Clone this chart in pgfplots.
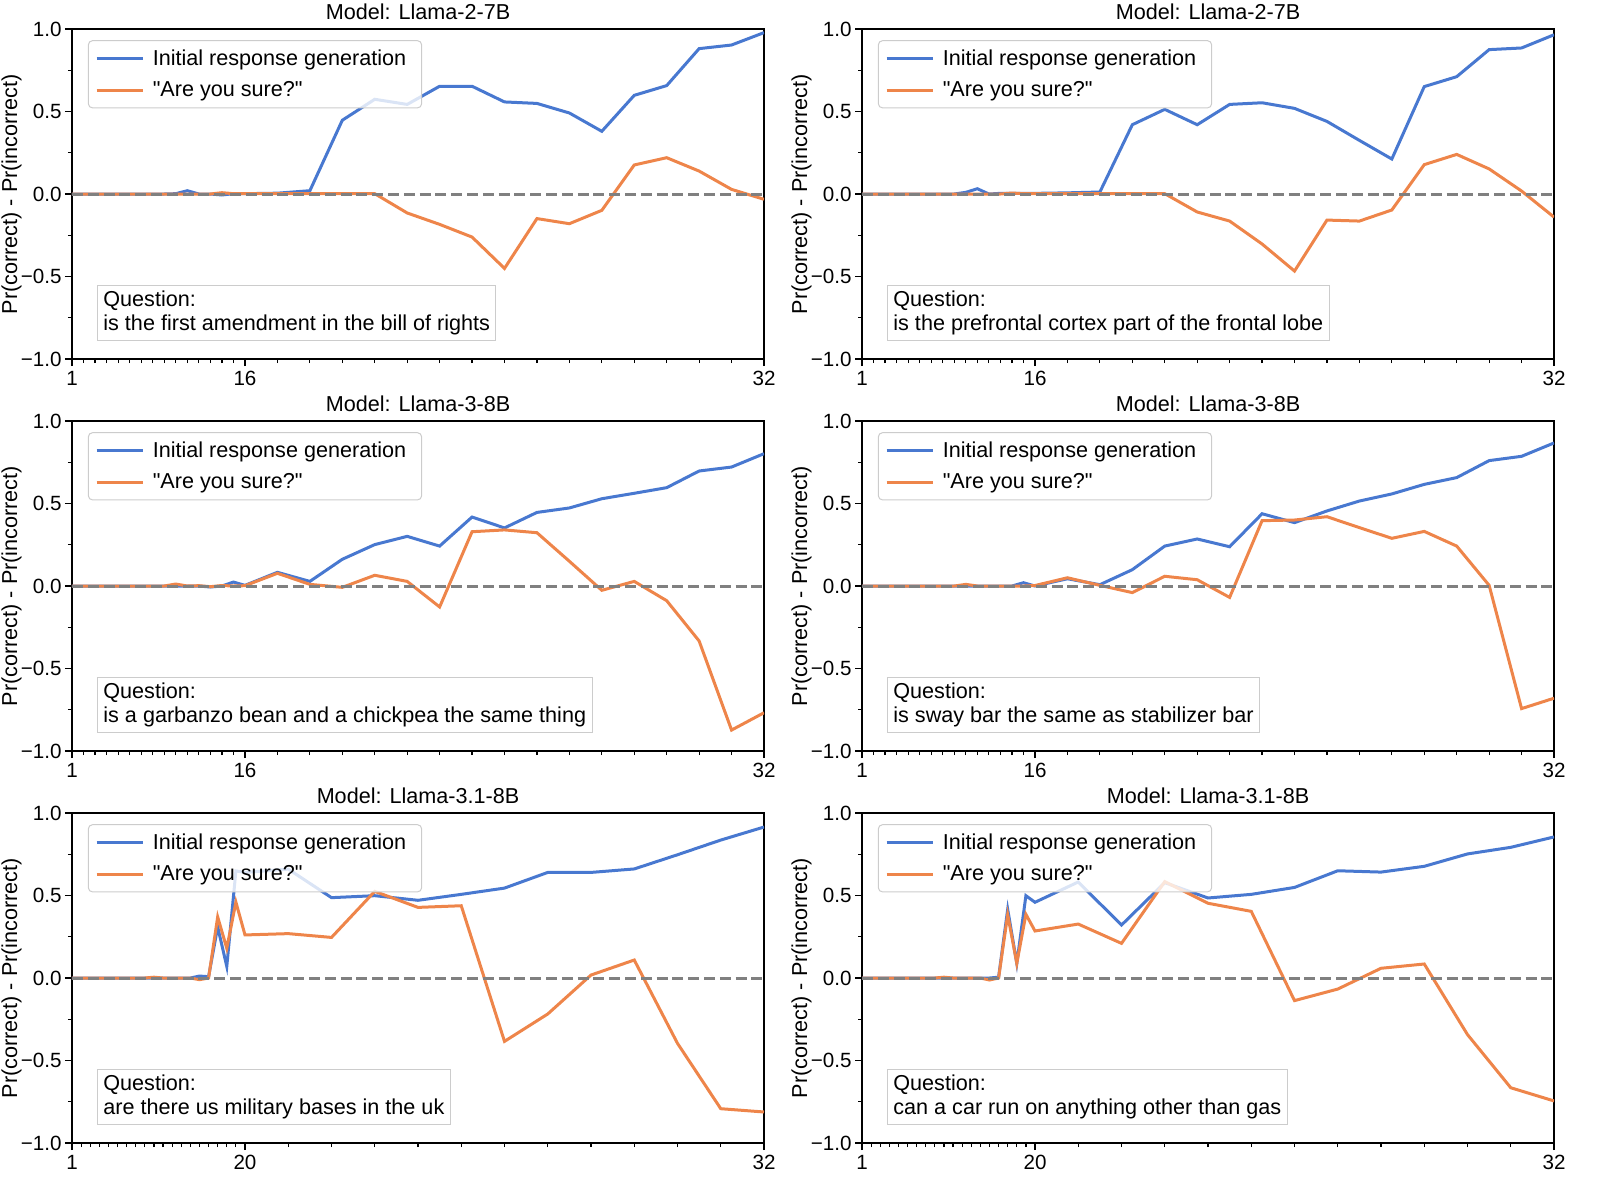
\documentclass[border=0pt]{standalone}
\usepackage{fontspec}
\setmainfont{Liberation Sans}
\usepackage{pgfplots}
\usepackage{pgfplotstable}
\pgfplotsset{compat=1.18}
\newcommand\fs{\fontsize{10.8}{12.4}\selectfont}
\newcommand\ft{\fontsize{10.3}{12}\selectfont}
\newcommand\q{\textquotedbl}
\definecolor{cblue}{HTML}{4878D0}
\definecolor{corange}{HTML}{EE854A}
\definecolor{cgray}{HTML}{808080}

\pgfplotstableread{
x b1 o1 b2 o2 b3 o3 b4 o4 b5 o5 b6 o6
1 0 0 0 0 0 0 0 0 0 0 0 0
2 0 0 0 0 0 0 0 0 0 0 0 0
3 0 0 0 0 0 0 0 0 0 0 0 0
4 0 0 0 0 0 0 0 0 0 0 0 0
5 0 0 0 0 0 0 0 0 0 0 0 0
6 0 0 0 0 0 0 0 0 0 0 0 0
7 0 0 0 0 0 0 0 0 0 0 0 0
8 0 0 0 0 0 0 0 0 0 0 0 0
9 0 0 0 0 0 0 0 0 0 0 0 0
10 0.002 0 0.01 0 0 0.012 0 0.01 0 0.005 0 0.005
11 0.02 0 0.032 0 0 0 0 0 0 0 0 0
12 0 0 0 0 0 0.002 0 0 0 0 0 0
13 0 0 0.004 0 -0.006 -0.004 0 0 0 0 0 0
14 -0.006 0.008 0.004 0.006 0 0.003 0 0 0 0 0 0
15 0.002 0.002 0.004 0.002 0.024 0 0.02 0 0.012 -0.01 0 -0.012
16 0.002 0.002 0.004 0.002 0.004 0.002 0 0.003 0.008 0 0.005 0
17 0.005 0.002 0.007 0.002 0.083 0.077 0.044 0.05 0.31 0.37 0.416 0.384
18 0.02 0.003 0.012 0.002 0.028 0.01 0.008 0.004 0.07 0.18 0.089 0.089
19 0.447 0.003 0.42 0.002 0.162 -0.008 0.099 -0.04 0.649 0.46 0.499 0.386
20 0.574 0.002 0.513 0.002 0.251 0.065 0.242 0.059 0.64 0.261 0.459 0.285
21 0.543 -0.115 0.42 -0.109 0.301 0.028 0.285 0.038 0.66 0.269 0.582 0.327
22 0.653 -0.184 0.543 -0.164 0.242 -0.127 0.238 -0.069 0.487 0.246 0.321 0.21
23 0.653 -0.261 0.553 -0.303 0.418 0.329 0.438 0.396 0.499 0.525 0.578 0.584
24 0.558 -0.451 0.519 -0.467 0.352 0.34 0.384 0.4 0.471 0.428 0.485 0.453
25 0.549 -0.149 0.44 -0.158 0.446 0.323 0.455 0.42 0.507 0.438 0.507 0.404
26 0.491 -0.18 0.325 -0.164 0.473 0.15 0.515 0.354 0.545 -0.384 0.549 -0.137
27 0.38 -0.099 0.212 -0.097 0.529 -0.026 0.558 0.289 0.64 -0.218 0.65 -0.067
28 0.598 0.176 0.651 0.178 0.562 0.028 0.616 0.331 0.64 0.018 0.642 0.059
29 0.657 0.22 0.711 0.24 0.596 -0.089 0.657 0.242 0.661 0.109 0.677 0.085
30 0.881 0.139 0.875 0.152 0.697 -0.333 0.76 0.004 0.747 -0.396 0.752 -0.343
31 0.903 0.028 0.885 0.018 0.721 -0.873 0.786 -0.743 0.836 -0.792 0.792 -0.665
32 0.978 -0.032 0.965 -0.14 0.802 -0.768 0.867 -0.68 0.915 -0.812 0.855 -0.745
}\data

\tikzset{
  qbox/.style={draw=black!20, fill=white, fill opacity=0.8, text opacity=1, align=left,
    inner xsep=3pt, inner ysep=2.5pt, font=\fs, line width=0.5pt, anchor=south west},
}
\pgfplotsset{
  every axis title/.style={at={(0.5,1)}, anchor=south, inner sep=0pt, yshift=4.5pt, font=\fs},
  every axis y label/.style={at={(axis description cs:-0.0875,0.5)}, rotate=90, anchor=center, font=\fs},
  panel/.style={
    scale only axis, width=346pt, height=165pt,
    anchor=north west,
    ymin=-1, ymax=1,
    ytick={-1,-0.5,0,0.5,1},
    yticklabels={−1.0,−0.5,0.0,0.5,1.0},
    minor ytick={-0.75,-0.25,0.25,0.75},
    xtick pos=bottom, ytick pos=left,
    tick align=outside,
    major tick length=3.5pt, minor tick length=2pt,
    tick style={black, line width=0.6pt},
    axis line style={line width=0.7pt},
    font=\fs,
    tick label style={font=\ft},
    yticklabel style={xshift=1.8pt},
    xticklabel style={yshift=1pt},
    ylabel={Pr(correct) - Pr(incorrect)},
    legend style={at={(0.023,0.966)}, anchor=north west, draw=black!20, fill=white,
      fill opacity=0.8, text opacity=1, rounded corners=2pt, inner xsep=3.4pt,
      inner ysep=2.4pt, row sep=2.4pt, font=\fs, line width=0.5pt,
      nodes={inner xsep=4.3pt}},
    legend cell align=left,
    legend image code/.code={\draw[##1, line width=1.5pt] (0pt,0pt) -- (23pt,0pt);},
  },
  rowA/.style={xmin=10.66667, xmax=32, xtick={10.66667,16,32}, xticklabels={1,16,32},
    minor xtick={11.02222,11.37778,...,15.7,17,18,...,31}},
  rowB/.style={xmin=16, xmax=32, xtick={16,20,32}, xticklabels={1,20,32},
    minor xtick={16.210526,16.421053,...,19.9,21,22,...,31}},
  bl/.style={cblue, line width=1.5pt},
  or/.style={corange, line width=1.5pt},
  zl/.style={cgray, line width=1.5pt, dash pattern=on 5.5pt off 2.4pt, forget plot},
}
\newcommand\xa{{\thisrow{x}>=16 ? \thisrow{x} : 16-(16-\thisrow{x})*0.3555556}}
\newcommand\xb{{\thisrow{x}>=20 ? \thisrow{x} : 20-(20-\thisrow{x})*0.2105263}}

\begin{document}
\begin{tikzpicture}
\useasboundingbox (0,0) rectangle (800pt,-600pt);
% Row 1
\begin{axis}[panel, rowA, at={(36pt,-14.5pt)}, title={Model: Llama-2-7B}]
\addplot[bl] table[x expr=\xa, y=b1] {\data};
\addlegendentry{Initial response generation}
\addplot[or] table[x expr=\xa, y=o1] {\data};
\addlegendentry{\q Are you sure?\q}
\addplot[zl] coordinates {(10.66667,0) (32,0)};
\node[qbox] at (rel axis cs:0.036,0.055) {Question:\\is the first amendment in the bill of rights};
\end{axis}
\begin{axis}[panel, rowA, at={(431pt,-14.5pt)}, title={Model: Llama-2-7B}]
\addplot[bl] table[x expr=\xa, y=b2] {\data};
\addlegendentry{Initial response generation}
\addplot[or] table[x expr=\xa, y=o2] {\data};
\addlegendentry{\q Are you sure?\q}
\addplot[zl] coordinates {(10.66667,0) (32,0)};
\node[qbox] at (rel axis cs:0.036,0.055) {Question:\\is the prefrontal cortex part of the frontal lobe};
\end{axis}
% Row 2
\begin{axis}[panel, rowA, at={(36pt,-210.5pt)}, title={Model: Llama-3-8B}]
\addplot[bl] table[x expr=\xa, y=b3] {\data};
\addlegendentry{Initial response generation}
\addplot[or] table[x expr=\xa, y=o3] {\data};
\addlegendentry{\q Are you sure?\q}
\addplot[zl] coordinates {(10.66667,0) (32,0)};
\node[qbox] at (rel axis cs:0.036,0.055) {Question:\\is a garbanzo bean and a chickpea the same thing};
\end{axis}
\begin{axis}[panel, rowA, at={(431pt,-210.5pt)}, title={Model: Llama-3-8B}]
\addplot[bl] table[x expr=\xa, y=b4] {\data};
\addlegendentry{Initial response generation}
\addplot[or] table[x expr=\xa, y=o4] {\data};
\addlegendentry{\q Are you sure?\q}
\addplot[zl] coordinates {(10.66667,0) (32,0)};
\node[qbox] at (rel axis cs:0.036,0.055) {Question:\\is sway bar the same as stabilizer bar};
\end{axis}
% Row 3
\begin{axis}[panel, rowB, at={(36pt,-406.5pt)}, title={Model: Llama-3.1-8B}]
\addplot[bl] table[x expr=\xb, y=b5] {\data};
\addlegendentry{Initial response generation}
\addplot[or] table[x expr=\xb, y=o5] {\data};
\addlegendentry{\q Are you sure?\q}
\addplot[zl] coordinates {(16,0) (32,0)};
\node[qbox] at (rel axis cs:0.036,0.055) {Question:\\are there us military bases in the uk};
\end{axis}
\begin{axis}[panel, rowB, at={(431pt,-406.5pt)}, title={Model: Llama-3.1-8B}]
\addplot[bl] table[x expr=\xb, y=b6] {\data};
\addlegendentry{Initial response generation}
\addplot[or] table[x expr=\xb, y=o6] {\data};
\addlegendentry{\q Are you sure?\q}
\addplot[zl] coordinates {(16,0) (32,0)};
\node[qbox] at (rel axis cs:0.036,0.055) {Question:\\can a car run on anything other than gas};
\end{axis}
\end{tikzpicture}
\end{document}
